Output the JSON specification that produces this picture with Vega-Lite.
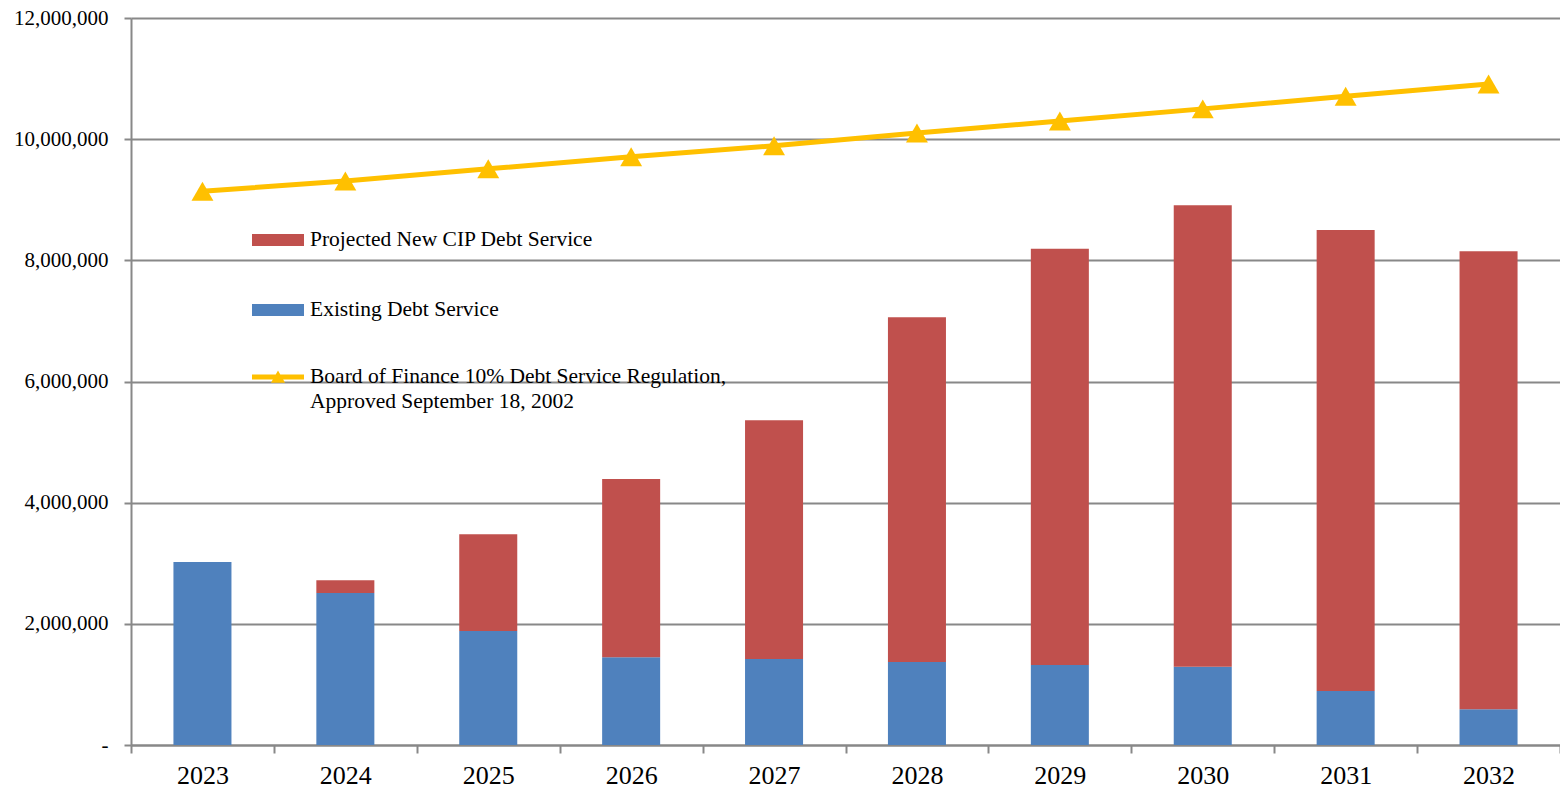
{
  "$schema": "https://vega.github.io/schema/vega-lite/v6.json",
  "width": 1429,
  "height": 727,
  "autosize": {"type": "none"},
  "padding": {"left": 131, "top": 18, "right": 0, "bottom": 43},
  "background": "white",
  "config": {
    "view": {"stroke": null},
    "font": "Liberation Serif",
    "axis": {
      "labelFont": "Liberation Serif",
      "labelColor": "#000000",
      "domainColor": "#888888",
      "domainWidth": 2,
      "tickColor": "#888888",
      "tickWidth": 2,
      "gridColor": "#888888",
      "gridWidth": 2,
      "title": null
    },
    "legend": {
      "labelFont": "Liberation Serif",
      "labelColor": "#000000",
      "labelFontSize": 21.5,
      "labelLimit": 0,
      "padding": 0,
      "title": null
    }
  },
  "datasets": {
    "bars": [
      {"year": "2023", "series": "Existing Debt Service", "value": 3020000},
      {"year": "2023", "series": "Projected New CIP Debt Service", "value": 0},
      {"year": "2024", "series": "Existing Debt Service", "value": 2510000},
      {"year": "2024", "series": "Projected New CIP Debt Service", "value": 210000},
      {"year": "2025", "series": "Existing Debt Service", "value": 1880000},
      {"year": "2025", "series": "Projected New CIP Debt Service", "value": 1600000},
      {"year": "2026", "series": "Existing Debt Service", "value": 1450000},
      {"year": "2026", "series": "Projected New CIP Debt Service", "value": 2940000},
      {"year": "2027", "series": "Existing Debt Service", "value": 1420000},
      {"year": "2027", "series": "Projected New CIP Debt Service", "value": 3940000},
      {"year": "2028", "series": "Existing Debt Service", "value": 1370000},
      {"year": "2028", "series": "Projected New CIP Debt Service", "value": 5690000},
      {"year": "2029", "series": "Existing Debt Service", "value": 1320000},
      {"year": "2029", "series": "Projected New CIP Debt Service", "value": 6870000},
      {"year": "2030", "series": "Existing Debt Service", "value": 1290000},
      {"year": "2030", "series": "Projected New CIP Debt Service", "value": 7620000},
      {"year": "2031", "series": "Existing Debt Service", "value": 890000},
      {"year": "2031", "series": "Projected New CIP Debt Service", "value": 7610000},
      {"year": "2032", "series": "Existing Debt Service", "value": 590000},
      {"year": "2032", "series": "Projected New CIP Debt Service", "value": 7560000}
    ],
    "line": [
      {"year": "2023", "series": "Board of Finance 10% Debt Service Regulation", "value": 9140000},
      {"year": "2024", "series": "Board of Finance 10% Debt Service Regulation", "value": 9310000},
      {"year": "2025", "series": "Board of Finance 10% Debt Service Regulation", "value": 9510000},
      {"year": "2026", "series": "Board of Finance 10% Debt Service Regulation", "value": 9710000},
      {"year": "2027", "series": "Board of Finance 10% Debt Service Regulation", "value": 9890000},
      {"year": "2028", "series": "Board of Finance 10% Debt Service Regulation", "value": 10100000},
      {"year": "2029", "series": "Board of Finance 10% Debt Service Regulation", "value": 10300000},
      {"year": "2030", "series": "Board of Finance 10% Debt Service Regulation", "value": 10500000},
      {"year": "2031", "series": "Board of Finance 10% Debt Service Regulation", "value": 10710000},
      {"year": "2032", "series": "Board of Finance 10% Debt Service Regulation", "value": 10910000}
    ]
  },
  "encoding": {
    "x": {
      "field": "year",
      "type": "ordinal",
      "scale": {"paddingInner": 0, "paddingOuter": 0},
      "axis": {
        "labelAngle": 0,
        "labelFontSize": 26,
        "labelPadding": 9,
        "tickBand": "extent",
        "tickSize": 8,
        "grid": false
      }
    },
    "y": {
      "field": "value",
      "type": "quantitative",
      "scale": {"domain": [0, 12000000], "nice": false},
      "axis": {
        "values": [0, 2000000, 4000000, 6000000, 8000000, 10000000, 12000000],
        "labelExpr": "datum.value == 0 ? '-' : format(datum.value, ',')",
        "labelFontSize": 21,
        "tickSize": 7,
        "labelPadding": 16,
        "grid": true
      }
    }
  },
  "layer": [
    {
      "data": {"name": "bars"},
      "mark": {"type": "bar", "width": {"band": 0.406}},
      "encoding": {
        "y": {"field": "value", "type": "quantitative", "stack": "zero"},
        "order": {"field": "series", "type": "nominal", "sort": "ascending"},
        "fill": {
          "field": "series",
          "type": "nominal",
          "scale": {
            "domain": ["Existing Debt Service", "Projected New CIP Debt Service"],
            "range": ["#4F81BD", "#C0504D"]
          },
          "legend": {
            "orient": "none",
            "legendX": 121,
            "legendY": 196,
            "values": ["Projected New CIP Debt Service", "Existing Debt Service"],
            "symbolType": "M-1,-0.23H1V0.23H-1Z",
            "symbolSize": 2704,
            "symbolStrokeWidth": 0,
            "symbolOpacity": 1,
            "labelOffset": 6,
            "rowPadding": 33
          }
        }
      }
    },
    {
      "data": {"name": "line"},
      "mark": {"type": "line", "strokeWidth": 5},
      "encoding": {
        "stroke": {
          "field": "series",
          "type": "nominal",
          "scale": {"range": ["#FFC000"]},
          "legend": {
            "orient": "none",
            "legendX": 121,
            "legendY": 333,
            "symbolType": "M-1,-0.1H1V0.1H-1Z M-0.27,0.22L0,-0.25L0.27,0.22Z",
            "symbolSize": 2704,
            "labelOffset": 6,
            "labelExpr": "['Board of Finance 10% Debt Service Regulation,', 'Approved September 18, 2002']",
            "encode": {
              "symbols": {
                "update": {
                  "fill": {"value": "#FFC000"},
                  "fillOpacity": {"value": 1},
                  "strokeWidth": {"value": 0}
                }
              },
              "labels": {
                "update": {
                  "lineHeight": {"value": 25}
                }
              }
            }
          }
        }
      }
    },
    {
      "data": {"name": "line"},
      "mark": {"type": "point", "shape": "triangle-up", "filled": true, "size": 480, "color": "#FFC000", "opacity": 1}
    }
  ]
}
